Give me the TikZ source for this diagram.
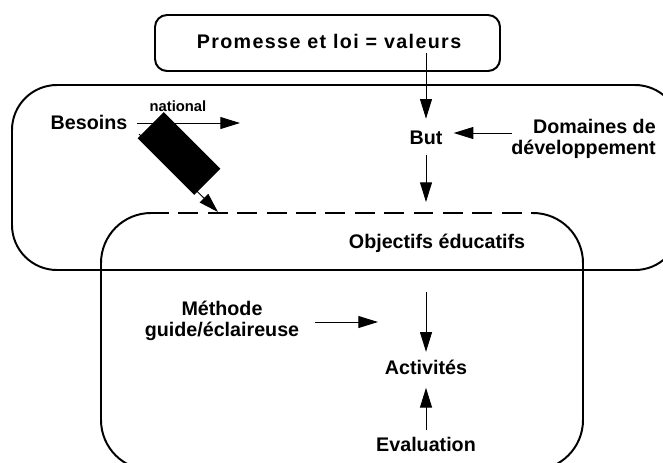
\documentclass[tikz,border=0pt]{standalone}
\usepackage{fontspec}
\setmainfont{Liberation Sans}
\usetikzlibrary{arrows.meta}

\begin{document}
\begin{tikzpicture}[x=0.025cm, y=-0.025cm,
    frame/.style={line width=1.4pt},
    flow/.style={line width=0.7pt, -{Triangle[length=14pt,width=8.5pt]}},
    lbl/.style={font=\fontsize{14}{14.5}\selectfont\bfseries},
    oneline/.style={lbl, text height=10pt, text depth=0pt, inner sep=5pt}]
  \useasboundingbox (0,0) rectangle (663,462);
  % frames
  \draw[frame, rounded corners=0.3cm] (155,15) rectangle (500,71);
  \draw[frame, rounded corners=1.125cm] (12,85) rectangle (680,270);
  \draw[frame, rounded corners=1.25cm] (533,213) -- (583,213) -- (583,470)
    -- (101,470) -- (101,213) -- (151,213);
  \draw[frame, dash pattern=on 14.2pt off 6.7pt] (149,213) -- (533,213);
  % labels
  \node[oneline] (promesse) at (329,41) {\addfontfeature{LetterSpace=7}Promesse et loi = valeurs};
  \node[oneline, inner sep=7.8pt] (but) at (426,137) {But};
  \node[lbl, align=right, anchor=east, inner sep=0pt] (domaines) at (656,139) {Domaines de\\développement};
  \node[oneline, inner sep=7pt] (besoins) at (89,122) {Besoins};
  \node[font=\fontsize{10.5}{12}\selectfont\bfseries] (national) at (178,106) {national};
  \node[oneline] (objectifs) at (437,241) {Objectifs éducatifs};
  \node[lbl, align=center, inner sep=11pt] (methode) at (222,321) {Méthode\\guide/éclaireuse};
  \node[oneline, inner sep=5.6pt] (activites) at (426,367) {Activités};
  \node[oneline, inner sep=4.9pt] (evaluation) at (426,444) {Evaluation};
  % free ends
  \coordinate (pstart) at (426,53);
  \coordinate (dstart) at (512,133);
  \coordinate (objtop) at (426,202);
  \coordinate (natend) at (240,123);
  \coordinate (bstub) at (139,134);
  \coordinate (btip) at (218,212);
  \coordinate (astart) at (426,292);
  \coordinate (mtip) at (378,322);
  % arrows
  \draw[flow] (pstart) -- (but);
  \draw[flow] (dstart) -- (dstart -| but.east);
  \draw[flow] (but) -- (objtop);
  \draw[flow] (besoins.east |- natend) -- (natend);
  \draw[flow] (bstub) -- (btip);
  \node[fill=black, minimum width=2cm, minimum height=0.925cm, rotate=-45] (natbox) at (179,153.5) {};
  \draw[flow] (astart) -- (activites);
  \draw[flow, shorten >=4pt] (evaluation) -- (activites);
  \draw[flow] (methode.east |- mtip) -- (mtip);
\end{tikzpicture}
\end{document}
